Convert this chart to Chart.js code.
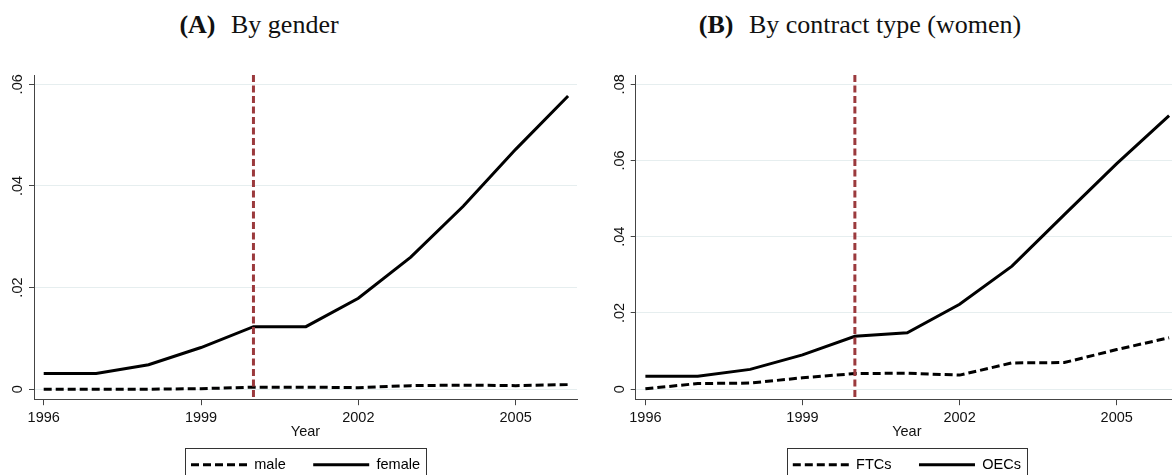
<!DOCTYPE html>
<html>
<head>
<meta charset="utf-8">
<script src="https://cdn.jsdelivr.net/npm/chart.js@4.4.1/dist/chart.umd.min.js"></script>
<style>
  html, body { margin: 0; padding: 0; background: #fff; }
  body { width: 1172px; height: 475px; position: relative; overflow: hidden; }
  .title {
    position: absolute; top: 12px; width: 400px; text-align: center;
    font-family: 'Liberation Serif', 'DejaVu Serif', serif;
    font-size: 26px; line-height: 26px; color: #111; white-space: nowrap;
  }
  .title b { margin-right: 9px; }
  canvas { position: absolute; top: 60px; }
</style>
</head>
<body>
<div class="title" style="left:59px"><b>(A)</b> By gender</div>
<div class="title" style="left:660px"><b>(B)</b> By contract type (women)</div>
<canvas id="chartA" width="586" height="422" style="left:0"></canvas>
<canvas id="chartB" width="600" height="422" style="left:586px"></canvas>
<script>
// values
const years = [1996, 1997, 1998, 1999, 2000, 2001, 2002, 2003, 2004, 2005, 2006];
const male = [0.0000, 0.0000, 0.0000, 0.0001, 0.0004, 0.0004, 0.0003, 0.0007, 0.0008, 0.0007, 0.0009];
const female = [0.0031, 0.0031, 0.0048, 0.0082, 0.0123, 0.0123, 0.0179, 0.0260, 0.0360, 0.0472, 0.0577];
const ftc = [0.0001, 0.0015, 0.0016, 0.0030, 0.0041, 0.0042, 0.0037, 0.0069, 0.0070, 0.0104, 0.0135];
const oec = [0.0034, 0.0034, 0.0052, 0.0090, 0.0139, 0.0148, 0.0223, 0.0323, 0.0458, 0.0592, 0.0718];

const yearTicks = [1996, 1999, 2002, 2005];
const ticksA = [0, 0.02, 0.04, 0.06];
const ticksB = [0, 0.02, 0.04, 0.06, 0.08];
const reformYear = 2000;

const FONT = "'Liberation Sans Narrow', 'Liberation Sans', Arial, sans-serif";
Chart.defaults.font.family = FONT;
Chart.defaults.font.size = 14.5;
Chart.defaults.color = '#111';

const toPoints = (vals) => years.map((yr, i) => ({ x: yr, y: vals[i] }));

const fmtShare = (v) => v === 0 ? '0' : v.toFixed(2).replace(/^0/, '');

// red dashed line at the reform year
const reformLine = {
    id: 'reformLine',
    afterDatasetsDraw(chart) {
        const { ctx, chartArea, scales } = chart;
        const x = scales.x.getPixelForValue(reformYear);
        ctx.save();
        ctx.strokeStyle = '#9b3a3d';
        ctx.lineWidth = 3;
        ctx.setLineDash([7, 3.5]);
        ctx.beginPath();
        ctx.moveTo(x, chartArea.top);
        ctx.lineTo(x, chartArea.bottom);
        ctx.stroke();
        ctx.restore();
    }
};

// stata style frame round the legend
const legendFrame = {
    id: 'legendFrame',
    afterDraw(chart) {
        const boxes = chart.legend.legendHitBoxes;
        if (!boxes || !boxes.length) return;
        const first = boxes[0];
        const last = boxes[boxes.length - 1];
        const mid = first.top + first.height / 2;
        const left = Math.round(first.left - 6) + 0.5;
        const right = Math.round(last.left + last.width + 6) + 0.5;
        const top = Math.round(mid - 16.7) + 0.5;
        const ctx = chart.ctx;
        ctx.save();
        ctx.strokeStyle = '#333';
        ctx.lineWidth = 1;
        ctx.strokeRect(left, top, right - left, 40);
        ctx.restore();
    }
};

function makeChart(id, series, yTicks, yMin, yMax, yWidth, padRight) {
    const datasets = series.map(s => ({
        label: s.label,
        data: toPoints(s.values),
        borderColor: '#000',
        backgroundColor: '#000',
        borderWidth: 3,
        borderDash: s.dashed ? [8, 4] : [],
        tension: 0,
        pointRadius: 0,
        fill: false
    }));

    return new Chart(document.getElementById(id), {
        type: 'line',
        data: { datasets },
        options: {
            responsive: false,
            animation: false,
            layout: { padding: { top: 15, left: 0, right: padRight, bottom: 0 } },
            plugins: {
                tooltip: { enabled: false },
                legend: {
                    position: 'bottom',
                    fullSize: false,
                    labels: {
                        usePointStyle: true,
                        pointStyle: 'line',
                        pointStyleWidth: 56,
                        padding: 13,
                        font: { size: 14.5 },
                        generateLabels(chart) {
                            const n = chart.data.datasets.length;
                            return chart.data.datasets.map((ds, i) => ({
                                text: ds.label + (i < n - 1 ? '\u2003' : ''),
                                strokeStyle: ds.borderColor,
                                fillStyle: ds.borderColor,
                                lineWidth: ds.borderWidth,
                                lineDash: ds.borderDash,
                                pointStyle: 'line',
                                datasetIndex: i
                            }));
                        }
                    }
                }
            },
            scales: {
                x: {
                    type: 'linear',
                    min: 1995.815,
                    max: 2006.17,
                    afterBuildTicks(scale) {
                        scale.ticks = yearTicks.map(v => ({ value: v }));
                    },
                    afterFit(scale) { scale.height = 45.3; },
                    grid: { drawOnChartArea: false, drawTicks: true, tickLength: 6, tickColor: '#444' },
                    border: { color: '#444', width: 1 },
                    ticks: { padding: 4, maxRotation: 0, autoSkip: false, callback: v => String(v) },
                    title: { display: true, text: 'Year', font: { size: 14.5 }, padding: { top: 0, bottom: 3.5 } }
                },
                y: {
                    type: 'linear',
                    min: yMin,
                    max: yMax,
                    afterBuildTicks(scale) {
                        scale.ticks = yTicks.map(v => ({ value: v }));
                    },
                    afterFit(scale) { scale.width = yWidth; },
                    grid: { color: '#e6eeef', lineWidth: 1, drawTicks: true, tickLength: 5, tickColor: '#444' },
                    border: { color: '#444', width: 1 },
                    ticks: { minRotation: 90, maxRotation: 90, crossAlign: 'center', padding: 1, callback: fmtShare }
                }
            }
        },
        plugins: [reformLine, legendFrame]
    });
}

makeChart('chartA', [
    { label: 'male', values: male, dashed: true },
    { label: 'female', values: female, dashed: false }
], ticksA, -0.00197, 0.06183, 34, 9);

makeChart('chartB', [
    { label: 'FTCs', values: ftc, dashed: true },
    { label: 'OECs', values: oec, dashed: false }
], ticksB, -0.00262, 0.08244, 49.7, 8);
</script>
</body>
</html>
